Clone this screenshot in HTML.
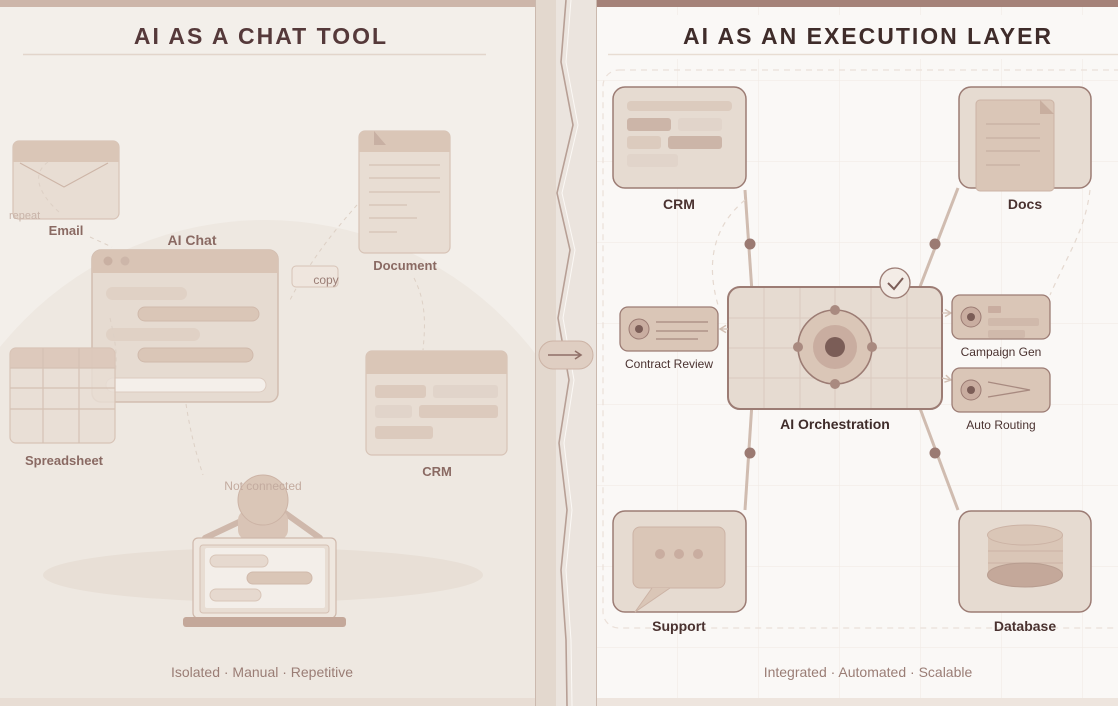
<!DOCTYPE html>
<html><head><meta charset="utf-8"><style>
html,body{margin:0;padding:0;width:1118px;height:706px;overflow:hidden;background:#f3efea}
svg{display:block}
text{font-family:"Liberation Sans",Arial,sans-serif}
</style></head><body>
<svg width="1118" height="706" viewBox="0 0 1118 706" xmlns="http://www.w3.org/2000/svg">
<defs>
<clipPath id="lc"><rect x="0" y="0" width="535" height="706"/></clipPath>
<clipPath id="rc"><rect x="597" y="0" width="521" height="706"/></clipPath>
<pattern id="grid" x="597" y="0" width="81" height="81" patternUnits="userSpaceOnUse">
<path d="M81 0V81M0 81H81" fill="none" stroke="#f0e9e3" stroke-width="1"/>
</pattern>
<marker id="ah" markerWidth="8" markerHeight="8" refX="6" refY="4" orient="auto"><path d="M1 1L6 4L1 7" fill="none" stroke="#d2bfb3" stroke-width="1.2"/></marker>
</defs>
<rect x="0" y="0" width="535" height="706" fill="#f3efea"/>
<g clip-path="url(#lc)">
<circle cx="265" cy="560" r="340" fill="#eee8e1"/>
<ellipse cx="263" cy="575" rx="220" ry="27" fill="#e8dfd6"/>
</g>
<rect x="0" y="0" width="535" height="7" fill="#cdb6aa"/>
<rect x="0" y="698" width="535" height="8" fill="#e8ddd4"/>
<text x="261" y="44" text-anchor="middle" font-size="23" font-weight="bold" fill="#55393a" letter-spacing="2">AI AS A CHAT TOOL</text>
<line x1="23" y1="54.5" x2="486" y2="54.5" stroke="#e2d5cb" stroke-width="1.5"/>

<rect x="13" y="141" width="106" height="78" rx="6" fill="#e8ddd3" stroke="#d7c3b6" stroke-width="1.2"/>
<path d="M13 162V147a6 6 0 0 1 6-6h94a6 6 0 0 1 6 6v15z" fill="#dac6b7"/>
<path d="M20 163L64 187L108 163" fill="none" stroke="#cdb5a7" stroke-width="1.2"/>
<path d="M48 162C30 175 40 195 60 213" fill="none" stroke="#ddd0c5" stroke-dasharray="4 4"/>
<text x="9" y="219" font-size="11" fill="#c8b3a8">repeat</text>
<text x="66" y="235" text-anchor="middle" font-size="13" font-weight="bold" fill="#8a6a63">Email</text>
<path d="M90 237L112 247" stroke="#ddd0c5" stroke-dasharray="4 4"/>

<rect x="359" y="131" width="91" height="122" rx="6" fill="#e8ddd3" stroke="#d7c3b6" stroke-width="1.2"/>
<path d="M359 152V137a6 6 0 0 1 6-6h79a6 6 0 0 1 6 6v15z" fill="#dac6b7"/>
<path d="M374 131L386 145H374Z" fill="#c8b0a3"/>
<g stroke="#d5c1b4" stroke-width="1.2">
<line x1="369" y1="165" x2="440" y2="165"/><line x1="369" y1="178" x2="440" y2="178"/><line x1="369" y1="192" x2="440" y2="192"/><line x1="369" y1="205" x2="407" y2="205"/><line x1="369" y1="218" x2="417" y2="218"/><line x1="369" y1="232" x2="397" y2="232"/>
</g>
<text x="405" y="270" text-anchor="middle" font-size="13" font-weight="bold" fill="#8a6a63">Document</text>
<path d="M357 205C335 230 310 260 289 302" fill="none" stroke="#ddd0c5" stroke-dasharray="4 4"/>
<rect x="292" y="266" width="46" height="21" rx="4" fill="#efe6de" stroke="#d7c3b6"/>
<text x="326" y="284" text-anchor="middle" font-size="12" fill="#9a7d75">copy</text>
<path d="M414 278C425 300 426 320 423 350" fill="none" stroke="#ddd0c5" stroke-dasharray="4 4"/>

<text x="192" y="245" text-anchor="middle" font-size="14" font-weight="bold" fill="#8a6a63">AI Chat</text>
<rect x="92" y="250" width="186" height="152" rx="9" fill="#e6dbd1" stroke="#d2bdb0" stroke-width="1.5"/>
<path d="M92 273V259a9 9 0 0 1 9-9h168a9 9 0 0 1 9 9v14z" fill="#d9c4b5"/>
<circle cx="108" cy="261" r="4.5" fill="#c9b0a2"/><circle cx="125" cy="261" r="4.5" fill="#cdb6a9"/>
<rect x="106" y="287" width="81" height="13" rx="6.5" fill="#e0d1c5"/>
<rect x="138" y="307" width="121" height="14" rx="7" fill="#dac6b7" stroke="#d0b9ab"/>
<rect x="106" y="328" width="94" height="13" rx="6.5" fill="#e0d1c5"/>
<rect x="138" y="348" width="115" height="14" rx="7" fill="#dac6b7" stroke="#d0b9ab"/>
<rect x="106" y="378" width="160" height="14" rx="7" fill="#f4efea" stroke="#dccbc0"/>
<path d="M110 318C115 340 118 355 115 375" fill="none" stroke="#ddd0c5" stroke-dasharray="4 4"/>
<path d="M186 404C190 430 195 450 203 475" fill="none" stroke="#ddd0c5" stroke-dasharray="4 4"/>

<rect x="10" y="348" width="105" height="95" rx="6" fill="#e8ddd3" fill-opacity="0.85" stroke="#d7c3b6" stroke-width="1.2"/>
<path d="M10 368V354a6 6 0 0 1 6-6h93a6 6 0 0 1 6 6v14z" fill="#dac6b7" fill-opacity="0.85"/>
<g stroke="#d5c1b4" stroke-width="1.2"><line x1="43" y1="348" x2="43" y2="443"/><line x1="79" y1="348" x2="79" y2="443"/><line x1="10" y1="368" x2="115" y2="368"/><line x1="10" y1="388" x2="115" y2="388"/><line x1="10" y1="409" x2="115" y2="409"/></g>
<text x="64" y="465" text-anchor="middle" font-size="13" font-weight="bold" fill="#8a6a63">Spreadsheet</text>

<rect x="366" y="351" width="141" height="104" rx="6" fill="#e8ddd3" stroke="#d7c3b6" stroke-width="1.2"/>
<path d="M366 374V357a6 6 0 0 1 6-6h129a6 6 0 0 1 6 6v17z" fill="#dac6b7"/>
<rect x="375" y="385" width="51" height="13" rx="3" fill="#dccabd"/><rect x="433" y="385" width="65" height="13" rx="3" fill="#e1d4ca"/>
<rect x="375" y="405" width="37" height="13" rx="3" fill="#e1d4ca"/><rect x="419" y="405" width="79" height="13" rx="3" fill="#dccabd"/>
<rect x="375" y="426" width="58" height="13" rx="3" fill="#dccabd"/>
<text x="437" y="476" text-anchor="middle" font-size="13" font-weight="bold" fill="#8a6a63">CRM</text>

<path d="M205 538L258 513" stroke="#cfb8ab" stroke-width="6" stroke-linecap="round"/>
<path d="M320 538L285 513" stroke="#cfb8ab" stroke-width="6" stroke-linecap="round"/>
<rect x="238" y="510" width="50" height="30" rx="10" fill="#d9c4b6"/>
<circle cx="263" cy="500" r="25" fill="#dac6b7" stroke="#ccb3a5"/>
<text x="263" y="490" text-anchor="middle" font-size="12" fill="#c3ab9f">Not connected</text>
<rect x="193" y="538" width="143" height="80" rx="5" fill="#efe7df" stroke="#cfb8ab" stroke-width="1.2"/>
<rect x="200" y="545" width="129" height="68" rx="3" fill="#e8ddd3" stroke="#d5c0b3"/>
<rect x="205" y="548" width="120" height="60" rx="2" fill="#f3eee9"/>
<rect x="210" y="555" width="58" height="12" rx="6" fill="#e6d9cf" stroke="#d8c5b8"/>
<rect x="247" y="572" width="65" height="12" rx="6" fill="#dac6b7" stroke="#d0b9ab"/>
<rect x="210" y="589" width="51" height="12" rx="6" fill="#e6d9cf" stroke="#d8c5b8"/>
<rect x="183" y="617" width="163" height="10" rx="3" fill="#c4a89a"/>

<text x="262" y="677" text-anchor="middle" font-size="14" fill="#9a7d75">Isolated · Manual · Repetitive</text>

<rect x="535" y="0" width="21" height="706" fill="#e3d8ce"/>
<rect x="556" y="0" width="40" height="706" fill="#ebe4de"/>
<line x1="535.5" y1="0" x2="535.5" y2="706" stroke="#cbb9ae"/>
<line x1="596.5" y1="0" x2="596.5" y2="706" stroke="#cbb9ae"/>
<path d="M566 0L561 62L573 125L557 193L570 250L558 318L569 380L559 443L567 510L561 570L566 640L567 706" fill="none" stroke="#fbf8f5" stroke-width="1" transform="translate(5,0)"/>
<path d="M566 0L561 62L573 125L557 193L570 250L558 318L569 380L559 443L567 510L561 570L566 640L567 706" fill="none" stroke="#b79f95" stroke-width="1.6"/>
<rect x="539" y="341" width="54" height="28" rx="14" fill="#dfcec2" stroke="#ccb3a5"/>
<line x1="548" y1="355" x2="580" y2="355" stroke="#8f6f67" stroke-width="1.6"/>
<path d="M575 351L581 355L575 359" fill="none" stroke="#8f6f67" stroke-width="1.6"/>

<rect x="597" y="0" width="521" height="706" fill="#faf8f6"/>
<rect x="597" y="0" width="521" height="706" fill="url(#grid)"/>
<rect x="597" y="0" width="521" height="7" fill="#a58279"/>
<rect x="597" y="698" width="521" height="8" fill="#eee5de"/>
<rect x="597" y="15" width="521" height="44" fill="#faf8f6"/>
<text x="868" y="44" text-anchor="middle" font-size="23" font-weight="bold" fill="#3f2c2a" letter-spacing="2">AI AS AN EXECUTION LAYER</text>
<line x1="608" y1="54.5" x2="1118" y2="54.5" stroke="#e8ddd3" stroke-width="1.5"/>
<g clip-path="url(#rc)">
<rect x="603" y="70" width="530" height="558" rx="16" fill="none" stroke="#ebe0d9" stroke-width="1.2" stroke-dasharray="6 5"/>
</g>

<g stroke="#d0bcb0" stroke-width="3">
<line x1="745" y1="190" x2="752" y2="292"/>
<line x1="958" y1="188" x2="918" y2="292"/>
<line x1="752" y1="403" x2="745" y2="510"/>
<line x1="918" y1="403" x2="958" y2="510"/>
</g>
<g fill="#9b7a72"><circle cx="750" cy="244" r="5.5"/><circle cx="935" cy="244" r="5.5"/><circle cx="750" cy="453" r="5.5"/><circle cx="935" cy="453" r="5.5"/></g>
<g fill="none" stroke="#e5d9d0" stroke-width="1.2" stroke-dasharray="5 5">
<path d="M745 200C715 225 705 260 718 305"/>
<path d="M1090 190C1085 230 1070 250 1050 295"/>
</g>

<rect x="613" y="87" width="133" height="101" rx="12" fill="#e6dbd1" stroke="#9c7c74" stroke-width="1.5"/>
<rect x="627" y="101" width="105" height="10" rx="4" fill="#dccbbe"/>
<rect x="627" y="118" width="44" height="13" rx="3" fill="#ccb5a8"/><rect x="678" y="118" width="44" height="13" rx="3" fill="#e1d4ca"/>
<rect x="627" y="136" width="34" height="13" rx="3" fill="#dccbbe"/><rect x="668" y="136" width="54" height="13" rx="3" fill="#ccb5a8"/>
<rect x="627" y="154" width="51" height="13" rx="3" fill="#e1d4ca"/>
<text x="679" y="209" text-anchor="middle" font-size="14" font-weight="bold" fill="#4a3230">CRM</text>

<rect x="959" y="87" width="132" height="101" rx="12" fill="#e6dbd1" stroke="#9c7c74" stroke-width="1.5"/>
<rect x="976" y="100" width="78" height="91" rx="4" fill="#dac6b7" stroke="#ccb3a5"/>
<path d="M1040 100L1054 114H1040Z" fill="#c8ae9f"/>
<g stroke="#c8b0a2" stroke-width="1.2"><line x1="986" y1="124" x2="1040" y2="124"/><line x1="986" y1="138" x2="1040" y2="138"/><line x1="986" y1="151" x2="1040" y2="151"/><line x1="986" y1="165" x2="1020" y2="165"/></g>
<text x="1025" y="209" text-anchor="middle" font-size="14" font-weight="bold" fill="#4a3230">Docs</text>

<rect x="728" y="287" width="214" height="122" rx="12" fill="#e6dbd1" stroke="#9c7c74" stroke-width="2"/>
<g stroke="#dacabe" stroke-width="1"><line x1="764" y1="288" x2="764" y2="408"/><line x1="800" y1="288" x2="800" y2="408"/><line x1="835" y1="288" x2="835" y2="408"/><line x1="871" y1="288" x2="871" y2="408"/><line x1="907" y1="288" x2="907" y2="408"/><line x1="729" y1="318" x2="941" y2="318"/><line x1="729" y1="348" x2="941" y2="348"/><line x1="729" y1="378" x2="941" y2="378"/></g>
<circle cx="835" cy="347" r="37" fill="#dac6b7" stroke="#9c7c74" stroke-width="1.6"/>
<circle cx="835" cy="347" r="22" fill="#c9ada0"/>
<circle cx="835" cy="347" r="10" fill="#7b5d57"/>
<g fill="#a98a80"><circle cx="835" cy="310" r="5"/><circle cx="835" cy="384" r="5"/><circle cx="798" cy="347" r="5"/><circle cx="872" cy="347" r="5"/></g>
<circle cx="895" cy="283" r="15" fill="#f3ece6" stroke="#9c7c74" stroke-width="1.3"/>
<path d="M888 283L894 289L903 278" fill="none" stroke="#7b5d57" stroke-width="2"/>
<text x="835" y="429" text-anchor="middle" font-size="14" font-weight="bold" fill="#3f2c2a">AI Orchestration</text>

<g stroke="#d0bcb0" stroke-width="1.2" fill="none">
<line x1="728" y1="329" x2="720" y2="329" marker-end="url(#ah)"/>
<line x1="942" y1="313" x2="951" y2="313" marker-end="url(#ah)"/>
<line x1="942" y1="378" x2="951" y2="380" marker-end="url(#ah)"/>
</g>

<rect x="620" y="307" width="98" height="44" rx="8" fill="#dac6b7" stroke="#9c7c74" stroke-width="1.3"/>
<circle cx="639" cy="329" r="10" fill="#c9ada0" stroke="#9c7c74"/><circle cx="639" cy="329" r="4" fill="#7b5d57"/>
<g stroke="#a88a80" stroke-width="1.2"><line x1="656" y1="322" x2="708" y2="322"/><line x1="656" y1="331" x2="708" y2="331"/><line x1="656" y1="339" x2="698" y2="339"/></g>
<text x="669" y="368" text-anchor="middle" font-size="12" fill="#4a3230">Contract Review</text>

<rect x="952" y="295" width="98" height="44" rx="8" fill="#dac6b7" stroke="#9c7c74" stroke-width="1.3"/>
<circle cx="971" cy="317" r="10" fill="#c9ada0" stroke="#9c7c74"/><circle cx="971" cy="317" r="4" fill="#7b5d57"/>
<rect x="988" y="306" width="13" height="7" rx="1" fill="#c9ada0"/>
<rect x="988" y="318" width="51" height="8" rx="2" fill="#d0b9ab"/>
<rect x="988" y="330" width="37" height="8" rx="2" fill="#d0b9ab"/>
<text x="1001" y="356" text-anchor="middle" font-size="12" fill="#4a3230">Campaign Gen</text>

<rect x="952" y="368" width="98" height="44" rx="8" fill="#dac6b7" stroke="#9c7c74" stroke-width="1.3"/>
<circle cx="971" cy="390" r="10" fill="#c9ada0" stroke="#9c7c74"/><circle cx="971" cy="390" r="4" fill="#7b5d57"/>
<path d="M988 382L1030 390L988 397" fill="none" stroke="#a88a80" stroke-width="1.3"/>
<text x="1001" y="429" text-anchor="middle" font-size="12" fill="#4a3230">Auto Routing</text>

<rect x="613" y="511" width="133" height="101" rx="12" fill="#e6dbd1" stroke="#9c7c74" stroke-width="1.5"/>
<rect x="633" y="527" width="92" height="61" rx="7" fill="#dac6b7" stroke="#ccb3a5"/>
<path d="M652 588L635 612L670 588" fill="#dac6b7" stroke="#ccb3a5"/>
<g fill="#c9ada0"><circle cx="660" cy="554" r="5"/><circle cx="679" cy="554" r="5"/><circle cx="698" cy="554" r="5"/></g>
<text x="679" y="631" text-anchor="middle" font-size="14" font-weight="bold" fill="#4a3230">Support</text>

<rect x="959" y="511" width="132" height="101" rx="12" fill="#e6dbd1" stroke="#9c7c74" stroke-width="1.5"/>
<path d="M988 535v40h75v-40z" fill="#dac6b7"/>
<ellipse cx="1025" cy="535" rx="37.5" ry="10" fill="#dac6b7" stroke="#ccb3a5"/>
<line x1="988" y1="551" x2="1063" y2="551" stroke="#ccb3a5"/><line x1="988" y1="563" x2="1063" y2="563" stroke="#ccb3a5"/>
<ellipse cx="1025" cy="575" rx="37.5" ry="12" fill="#c4a89a" stroke="#b89d90"/>
<text x="1025" y="631" text-anchor="middle" font-size="14" font-weight="bold" fill="#4a3230">Database</text>

<text x="868" y="677" text-anchor="middle" font-size="14" fill="#9a7d75">Integrated · Automated · Scalable</text>
</svg>
</body></html>
